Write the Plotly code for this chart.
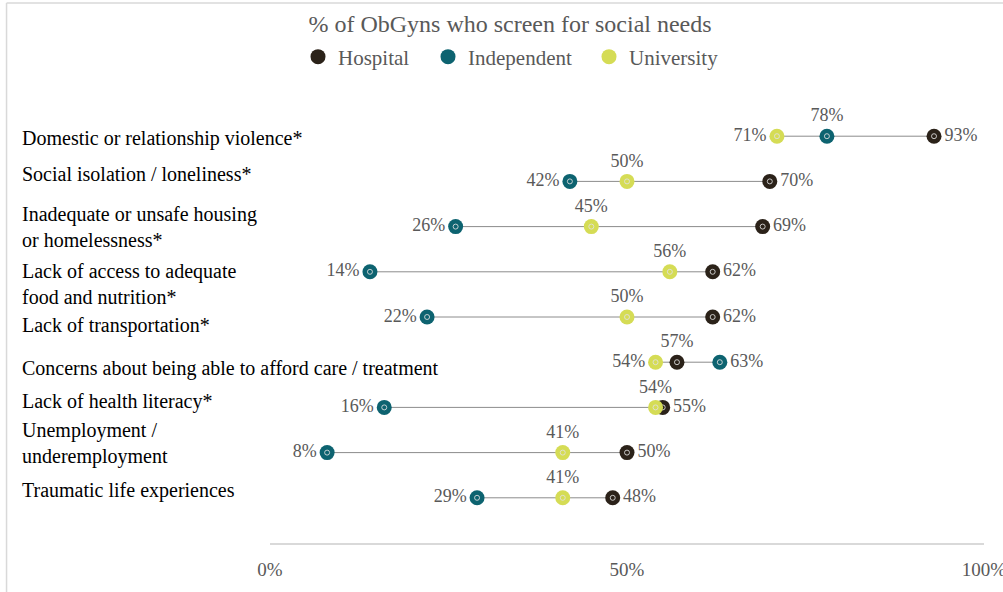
import plotly.graph_objects as go

# Screening rates (%) by practice type
categories = [
    "Domestic or relationship violence*",
    "Social isolation / loneliness*",
    "Inadequate or unsafe housing<br>or homelessness*",
    "Lack of access to adequate<br>food and nutrition*",
    "Lack of transportation*",
    "Concerns about being able to afford care / treatment",
    "Lack of health literacy*",
    "Unemployment /<br>underemployment",
    "Traumatic life experiences",
]
hospital = [93, 70, 69, 62, 62, 57, 55, 50, 48]
independent = [78, 42, 26, 14, 22, 63, 16, 8, 29]
university = [71, 50, 45, 56, 50, 54, 54, 41, 41]
x_ticks = [0, 50, 100]

# Vertical nudge (px) for each category label
label_shift = [-2, 7, 0, -12, -8, -6, 6, 9, 7]

FONT = "Liberation Serif, Times New Roman, serif"
GREY_TXT = "#595959"
series = [
    ("Hospital", hospital, "#2b2219"),
    ("Independent", independent, "#0d6370"),
    ("University", university, "#d5dc55"),
]
# one legend box per series so each entry can be placed on its own
legend_ids = ["legend", "legend2", "legend3"]
legend_x = [298, 428, 589]

rows = list(range(len(categories)))

fig = go.Figure()

# Connector from the lowest to the highest value in each row
lx, ly = [], []
for i in rows:
    vals = [hospital[i], independent[i], university[i]]
    lx += [min(vals), max(vals), None]
    ly += [i, i, None]
fig.add_trace(go.Scatter(x=lx, y=ly, mode="lines",
                         line=dict(color="#8c8c8c", width=1),
                         showlegend=False, hoverinfo="skip"))

for k, (name, vals, color) in enumerate(series):
    # lowest value labelled on the left, highest on the right, middle above
    pos = []
    for i, v in enumerate(vals):
        others = [s[1][i] for s in series if s[0] != name]
        if v < min(others):
            pos.append("middle left")
        elif v > max(others):
            pos.append("middle right")
        else:
            pos.append("top center")
    fig.add_trace(go.Scatter(
        x=vals, y=rows, mode="markers+text", name=name,
        legend=legend_ids[k],
        marker=dict(size=15, color=color, line=dict(width=0)),
        text=[f"{v}%" for v in vals], textposition=pos,
        textfont=dict(family=FONT, size=18, color=GREY_TXT),
    ))
    # small light ring in the centre of each dot
    fig.add_trace(go.Scatter(
        x=vals, y=rows, mode="markers", showlegend=False, hoverinfo="skip",
        marker=dict(size=5, symbol="circle-open",
                    color="rgba(225,225,225,0.85)", line=dict(width=1)),
    ))

# Category labels, left aligned
for i, cat in enumerate(categories):
    fig.add_annotation(
        x=-0.350, xref="paper", y=i, yref="y", text=cat,
        xanchor="left", yanchor="middle", align="left", showarrow=False,
        yshift=label_shift[i],
        font=dict(family=FONT, size=20, color="#000000"),
    )

# Outer frame edges
fig.add_shape(type="line", xref="paper", yref="paper",
              x0=-0.369, x1=1.2, y0=1.1947, y1=1.1947,
              line=dict(color="#d9d9d9", width=1.5))
fig.add_shape(type="line", xref="paper", yref="paper",
              x0=-0.369, x1=-0.369, y0=-0.2, y1=1.1947,
              line=dict(color="#d9d9d9", width=1.5))

legend_style = dict(orientation="h", xref="container", xanchor="left",
                    yref="container", y=1 - 57 / 592, yanchor="middle",
                    font=dict(family=FONT, size=21, color=GREY_TXT),
                    itemwidth=30, bgcolor="rgba(0,0,0,0)")

fig.update_layout(
    width=1003, height=592,
    margin=dict(l=270, r=19, t=91, b=49, autoexpand=False),
    paper_bgcolor="white", plot_bgcolor="white",
    font=dict(family=FONT, color=GREY_TXT),
    title=dict(text="% of ObGyns who screen for social needs",
               x=510 / 1003, xref="container", xanchor="center",
               y=1 - 24 / 592, yref="container", yanchor="middle",
               font=dict(family=FONT, size=24, color=GREY_TXT)),
    legend=dict(x=legend_x[0] / 1003, **legend_style),
    legend2=dict(x=legend_x[1] / 1003, **legend_style),
    legend3=dict(x=legend_x[2] / 1003, **legend_style),
    xaxis=dict(range=[0, 100], tickvals=x_ticks,
               ticktext=[f"{t}%" for t in x_ticks],
               showgrid=False, zeroline=False, showline=True,
               linecolor="#d9d9d9", linewidth=1.5, ticks="",
               automargin=False,
               ticklabeloverflow="allow", ticklabelstandoff=8,
               tickfont=dict(family=FONT, size=19, color=GREY_TXT)),
    yaxis=dict(range=[9, -1], showticklabels=False, showgrid=False,
               zeroline=False, showline=False, automargin=False),
)

fig.write_html("out.html")
